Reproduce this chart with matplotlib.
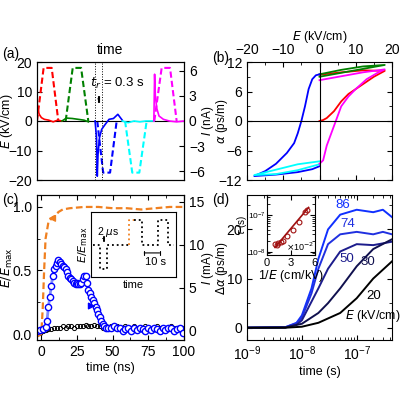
import matplotlib
matplotlib.use("Agg")
import matplotlib.pyplot as plt

plt.rcParams["font.family"] = ["Liberation Sans", "DejaVu Sans"]
plt.rcParams["font.size"] = 10
plt.rcParams["axes.labelsize"] = 9
plt.rcParams["xtick.direction"] = "in"
plt.rcParams["ytick.direction"] = "in"
plt.rcParams["axes.linewidth"] = 0.8

# ---- panel (a): field pulses (dashed) and currents (solid), time in arb. units
A_PULSES = {
    "red": ([0, 4.5, 10, 14.5], [0, 18, 18, 0]),
    "green": ([19.5, 24.3, 30, 34.9], [0, 18, 18, 0]),
    "blue": ([41, 45, 49.7, 54.2], [0, -17.5, -17.5, 0]),
    "cyan": ([59.9, 64.8, 69.6, 74.6], [0, -17.5, -17.5, 0]),
    "magenta": ([79.8, 84.8, 90.5, 95], [0, 18, 18, 0]),
}
A_CURRENT = {
    "red": ([0, 0.5, 1.5, 3, 5, 8, 11, 14, 17], [2.5, 1.5, 0.8, 0.4, 0.2, 0.1, -0.1, 0.1, 0.0]),
    "green": ([17, 20, 24, 28, 32, 35], [0.0, 0.35, 0.3, 0.2, 0.1, -0.1]),
    "blue": ([39.5, 40.5, 41, 41.5, 42.5, 44, 46, 49, 52, 55, 58],
             [0.0, -2.0, -6.6, -4.0, -2.0, -1.0, -0.5, 0.2, 0.3, 0.8, 0.1]),
    "cyan": ([58, 62, 66, 70, 74, 79.5], [0.0, -0.2, 0.0, -0.1, 0.0, 0.0]),
    "magenta": ([79.5, 80, 80.5, 81.5, 83, 86, 90, 95, 100],
                [0.0, 5.6, 3.0, 1.5, 0.6, 0.2, 0.0, -0.1, 0.0]),
}
A_VLINES = [39.5, 44.4]

# ---- panel (b): alpha vs E
B_RED_E = [0, 1, 2, 4, 6, 8, 10, 12, 15, 18, 12, 6, 0]
B_RED_A = [0, 0.2, 0.6, 2, 4, 5.5, 6.5, 7.5, 9, 10.2, 10.3, 9.9, 9.4]
B_GREEN_E = [0, 6, 12, 18, 12, 6, 0]
B_GREEN_A = [9.0, 9.8, 10.6, 11.4, 11.1, 10.4, 9.5]
B_BLUE_E = [0, -1, -2, -3, -4, -5, -6, -7, -9, -12, -15, -18, -12, -6, -2, 0]
B_BLUE_A = [9.5, 9.3, 8.5, 6.5, 3, 0, -2.5, -4.5, -6.5, -8.7, -10.2, -11.2, -10.9, -10.4, -9.8, -9.2]
B_CYAN_E = [0, -6, -12, -18, -12, -6, 0]
B_CYAN_A = [-8.2, -8.8, -9.9, -11.0, -10.8, -10.0, -8.8]
B_MAG_E = [0, 1, 2, 3, 4, 5, 6, 8, 10, 13, 16, 18, 12, 6, 0]
B_MAG_A = [-8.7, -8, -5, -3, -1, 1, 3, 5, 6.5, 8.5, 9.8, 10.5, 9.9, 9.1, 8.3]

# ---- panel (c): pulse and current vs time (ns)
C_E_T = [-3, 0, 1, 2, 3, 5, 8, 10, 12, 15, 20, 30, 40, 50, 60, 70, 80, 90, 100]
C_E_V = [-0.02, 0.0, 0.2, 0.5, 0.75, 0.88, 0.92, 0.93, 0.96, 0.98, 0.99, 1.0, 1.0,
         0.99, 0.99, 0.98, 0.99, 1.0, 1.0]
C_I_T = [-3, -1, 1, 3, 4, 5, 6, 7, 8, 9, 10, 11, 12, 13, 14, 15, 16, 17, 18, 19, 20,
         21, 22, 23, 24, 25, 26, 27, 28, 29, 30, 31, 32, 33, 34, 35, 36, 37, 38, 39,
         40, 41, 42, 43, 44, 45, 47, 49, 51, 53, 55, 57, 59, 61, 63, 65, 67, 69, 71,
         73, 75, 77, 79, 81, 83, 85, 87, 89, 91, 93, 95, 97, 99]
C_I_V = [0.0, 0.1, 0.2, 0.5, 1.2, 2.8, 4.0, 5.2, 6.4, 7.2, 7.6, 7.9, 8.2, 8.0, 7.8,
         7.6, 7.4, 7.2, 6.8, 6.4, 6.2, 6.0, 5.8, 5.6, 5.4, 5.6, 5.4, 5.4, 5.6, 6.0,
         6.4, 6.4, 5.6, 4.8, 4.4, 4.0, 3.6, 3.2, 2.8, 2.4, 2.0, 1.6, 1.2, 0.8, 0.6,
         0.4, 0.3, 0.4, 0.6, 0.3, 0.3, 0.0, 0.2, 0.3, 0.0, 0.3, 0.1, 0.3, 0.2, 0.0,
         0.3, 0.1, 0.4, 0.2, 0.0, 0.3, 0.1, 0.3, 0.4, 0.0, 0.2, 0.3, -0.2]
C_B_T = list(range(-3, 101, 2))
C_B_V = [0.0, 0.01, 0.02, 0.03, 0.04, 0.04, 0.05, 0.05, 0.05, 0.06, 0.05, 0.06, 0.06,
         0.05, 0.06, 0.06, 0.06, 0.07, 0.06, 0.06, 0.07, 0.06, 0.06, 0.05, 0.06, 0.05,
         0.06, 0.05, 0.06, 0.05, 0.05, 0.06, 0.05, 0.05, 0.06, 0.05, 0.04, 0.05, 0.06,
         0.05, 0.04, 0.05, 0.06, 0.05, 0.05, 0.04, 0.05, 0.06, 0.05, 0.04, 0.05, 0.05]
# inset waveform
C_W_X = [0.0, 0.08, 0.08, 0.17, 0.17, 0.45]
C_W_Y = [0.0, 0.0, -1.0, -1.0, 0.0, 0.0]
C_W_OR_X = [0.45, 0.45, 0.5]
C_W_OR_Y = [0.0, 1.0, 1.0]
C_W2_X = [0.5, 0.6, 0.6, 0.8, 0.8, 0.93, 0.93, 1.0]
C_W2_Y = [1.0, 1.0, 0.0, 0.0, 1.0, 1.0, 0.0, 0.0]

# ---- panel (d): delta alpha vs time for several fields
D_CURVES = {
    "86": ([1e-9, 5e-9, 8e-9, 1e-8, 1.5e-8, 2e-8, 3e-8, 5e-8, 1e-7, 2e-7, 3e-7, 4.4e-7],
           [0, 0.1, 1, 2.5, 8, 14, 20, 23, 24, 23.5, 24, 22.5]),
    "74": ([1e-9, 5e-9, 8e-9, 1e-8, 1.5e-8, 2e-8, 3e-8, 5e-8, 1e-7, 2e-7, 3e-7, 4.4e-7],
           [0, 0.1, 0.9, 2.0, 7, 12, 17, 19, 19.5, 19, 19.5, 19]),
    "50": ([1e-9, 5e-9, 8e-9, 1e-8, 2e-8, 3e-8, 5e-8, 1e-7, 2e-7, 4.4e-7],
           [0, 0.05, 0.6, 1.5, 8, 12, 15.5, 17, 16.8, 17.5]),
    "30": ([1e-9, 5e-9, 1e-8, 2e-8, 3e-8, 5e-8, 1e-7, 2e-7, 4.4e-7],
           [0, 0.05, 0.8, 3, 5, 8, 12.5, 16, 18]),
    "20": ([1e-9, 5e-9, 1e-8, 2e-8, 5e-8, 1e-7, 2e-7, 4.4e-7],
           [0, 0.0, 0.2, 1, 3, 6, 10, 13.5]),
}
D_COLORS = {"86": "#1030ff", "74": "#2030e0", "50": "#1c1c8c", "30": "#10104e", "20": "#000000"}
D_LABEL_POS = {"86": (5.6e-8, 25), "74": (6.9e-8, 21), "50": (6.7e-8, 14),
               "30": (1.6e-7, 13.3), "20": (2.0e-7, 6.4)}
D_IN_X = [1.0, 1.2, 1.4, 1.7, 2.0, 2.5, 3.3, 4.0, 4.8, 5.0]
D_IN_Y = [1.6e-8, 1.5e-8, 1.7e-8, 1.8e-8, 2.0e-8, 2.6e-8, 4.0e-8, 6.5e-8, 1.2e-7, 1.4e-7]
D_FIT_X = [1.0, 5.2]
D_FIT_Y = [1.3e-8, 1.6e-7]

fig = plt.figure(figsize=(4, 4), dpi=100)


def side_label(x_px, y_frac, text):
    # the labels between the two columns sit tightly side by side
    fig.text(x_px / 400, y_frac, text, rotation=90, ha="center", va="center",
             fontsize=8.5)


# (a)
ax = fig.add_axes([0.0925, 0.55, 0.3675, 0.295])
axr = ax.twinx()
for c, (t, e) in A_PULSES.items():
    ax.plot(t, e, color=c, ls=(0, (3, 1.5)), lw=1.5)
for c, (t, i) in A_CURRENT.items():
    axr.plot(t, i, color=c, lw=1.2)
ax.axhline(0, color="k", lw=0.8)
for v in A_VLINES:
    ax.axvline(v, color="k", ls=":", lw=0.7)
ax.annotate("", xy=(A_VLINES[0], 7.5), xytext=(A_VLINES[1], 7.5),
            arrowprops=dict(arrowstyle="|-|", lw=0.8, mutation_scale=2))
ax.text(36, 11.5, r"$t_r$ = 0.3 s", fontsize=9.5)
ax.set_xlim(0, 100)
ax.set_ylim(-20, 20)
axr.set_ylim(-7.06, 7.06)
ax.set_xticks([])
ax.set_yticks([-20, -10, 0, 10, 20])
axr.set_yticks([-6, -3, 0, 3, 6])
ax.set_ylabel(r"$E$ (kV/cm)")
ax.yaxis.set_label_coords(-0.15, 0.5)
side_label(208, 0.6975, r"$I$ (nA)")
ax.set_title("time", fontsize=10, pad=6)
fig.text(0.005, 0.855, "(a)")

# (b)
bx = fig.add_axes([0.6175, 0.55, 0.3625, 0.295])
bx.plot(B_RED_E, B_RED_A, color="red", lw=1.3)
bx.plot(B_GREEN_E, B_GREEN_A, color="green", lw=1.3)
bx.plot(B_BLUE_E, B_BLUE_A, color="blue", lw=1.3)
bx.plot(B_CYAN_E, B_CYAN_A, color="cyan", lw=1.3)
bx.plot(B_MAG_E, B_MAG_A, color="magenta", lw=1.3)
bx.axhline(0, color="k", lw=0.8)
bx.axvline(0, color="k", lw=0.8)
bx.set_xlim(-20, 20)
bx.set_ylim(-12, 12)
bx.set_xticks([-20, -10, 0, 10, 20])
bx.set_yticks([-12, -6, 0, 6, 12])
bx.set_xticks([-15, -5, 5, 15], minor=True)
bx.set_yticks([-9, -3, 3, 9], minor=True)
bx.xaxis.tick_top()
bx.xaxis.set_label_position("top")
bx.tick_params(which="both", top=True, bottom=True, left=True, right=True)
bx.set_xlabel(r"$E$ (kV/cm)", labelpad=2)
side_label(222, 0.6975, r"$\alpha$ (ps/m)")
fig.text(0.53, 0.845, "(b)")

# (c)
cx = fig.add_axes([0.0925, 0.15, 0.3675, 0.3625])
cxr = cx.twinx()
cx.plot(C_E_T, C_E_V, color="#f08020", ls=(0, (3, 1.5)), lw=1.6, zorder=3)
cx.plot(C_B_T, C_B_V, "o", color="k", mfc="none", ms=3, mew=0.7)
cxr.plot(C_I_T, C_I_V, "-", color="#6070ff", lw=2, alpha=0.8)
cxr.plot(C_I_T, C_I_V, "o", color="blue", mfc="white", ms=4.5, mew=1)
cx.annotate("", xy=(3, 0.91), xytext=(10, 0.91),
            arrowprops=dict(arrowstyle="-|>", color="#f08020", lw=1))
cxr.annotate("", xy=(40, 2.9), xytext=(34, 2.9),
             arrowprops=dict(arrowstyle="-|>", color="blue", lw=1))
cx.set_xlim(-3, 100)
cx.set_ylim(-0.047, 1.094)
cxr.set_ylim(-1.05, 15.8)
cx.set_xticks([0, 25, 50, 75, 100])
cx.set_xticks([12.5, 37.5, 62.5, 87.5], minor=True)
cx.set_yticks([0.0, 0.5, 1.0])
cx.set_yticks([0.25, 0.75], minor=True)
cxr.set_yticks([0, 5, 10, 15])
cx.tick_params(which="both", top=True)
cx.set_xlabel("time (ns)", labelpad=2)
cx.set_ylabel(r"$E/E_{\rm max}$")
cx.yaxis.set_label_coords(-0.15, 0.5)
side_label(208, 0.33, r"$I$ (mA)")
fig.text(0.005, 0.49, "(c)")

ci = fig.add_axes([0.2275, 0.3075, 0.2125, 0.1625])
ci.plot(C_W_X, C_W_Y, color="k", ls=":", lw=1.3)
ci.plot(C_W_OR_X, C_W_OR_Y, color="#f08020", ls=":", lw=1.3)
ci.plot(C_W2_X, C_W2_Y, color="k", ls=":", lw=1.3)
ci.annotate("", xy=(0.08, 0.25), xytext=(0.17, 0.25),
            arrowprops=dict(arrowstyle="|-|", lw=0.7, mutation_scale=1.5))
ci.text(0.05, 0.4, r"2 $\mu$s", fontsize=7.5)
ci.annotate("", xy=(0.6, -0.35), xytext=(0.86, -0.35),
            arrowprops=dict(arrowstyle="|-|", lw=0.8, mutation_scale=1.5))
ci.text(0.64, -0.85, "10 s", fontsize=8)
ci.set_xlim(-0.03, 1.03)
ci.set_ylim(-1.35, 1.35)
ci.set_xticks([])
ci.set_yticks([])
ci.set_xlabel("time", fontsize=8, labelpad=2)
ci.set_ylabel(r"$E/E_{\rm max}$", fontsize=8, labelpad=1)

# (d)
dx = fig.add_axes([0.6175, 0.15, 0.3625, 0.3625])
for k, (t, v) in D_CURVES.items():
    dx.plot(t, v, color=D_COLORS[k], lw=1.4)
    dx.text(*D_LABEL_POS[k], k, color=D_COLORS[k], fontsize=9.5, ha="center", va="center")
dx.text(2.0e-7, 2.4, r"$E$ (kV/cm)", fontsize=9, ha="center", va="center")
dx.set_xscale("log")
dx.set_xlim(1e-9, 4.4e-7)
dx.set_ylim(-2.5, 27)
dx.set_yticks([0, 10, 20])
dx.set_yticks([5, 15, 25], minor=True)
dx.tick_params(which="both", top=True, right=True)
dx.set_xlabel("time (s)", labelpad=2)
side_label(222, 0.33, r"$\Delta\alpha$ (ps/m)")
fig.text(0.53, 0.49, "(d)")

di = fig.add_axes([0.6675, 0.3625, 0.12, 0.15])
di.plot(D_FIT_X, D_FIT_Y, color="#a01010", lw=1.2)
di.plot(D_IN_X, D_IN_Y, "o", color="#a01010", mfc="none", ms=3.5, mew=0.8)
di.set_yscale("log")
di.set_xlim(0, 6)
di.set_ylim(8.1e-9, 3.5e-7)
di.set_xticks([0, 3, 6])
di.tick_params(axis="y", labelsize=6, pad=1, which="both", right=True)
di.tick_params(axis="x", labelsize=8, pad=2, top=True)
di.set_xlabel(r"1/$E$ (cm/kV)", fontsize=9, labelpad=0)
di.set_ylabel(r"$\tau$ (s)", fontsize=7)
di.yaxis.set_label_coords(-0.37, 0.5)
di.text(0.98, 0.04, r"$\times$10$^{-2}$", transform=di.transAxes, fontsize=6.5,
        ha="right", va="bottom")

fig.savefig("out.png", dpi=100)
